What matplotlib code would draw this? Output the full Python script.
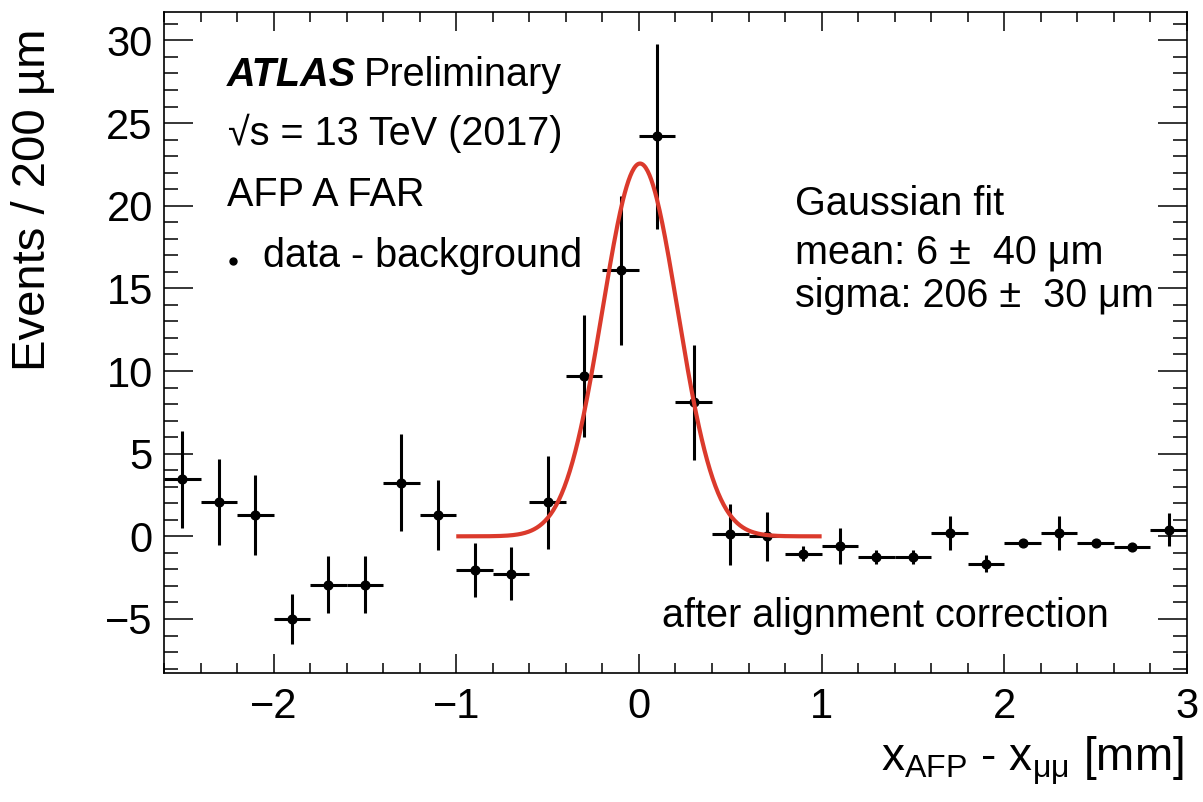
import numpy as np
import matplotlib
matplotlib.use('Agg')
from matplotlib import pyplot as plt
from matplotlib.ticker import MultipleLocator

plt.rcParams['font.family'] = ['Liberation Sans', 'DejaVu Sans']
plt.rcParams['mathtext.fontset'] = 'custom'
plt.rcParams['mathtext.rm'] = 'Liberation Sans'
plt.rcParams['mathtext.it'] = 'Liberation Sans:italic'

# data - background, bins of 200 um
bin_centers = [-2.5, -2.3, -2.1, -1.9, -1.7, -1.5, -1.3, -1.1, -0.9, -0.7,
               -0.5, -0.3, -0.1, 0.1, 0.3, 0.5, 0.7, 0.9, 1.1, 1.3,
               1.5, 1.7, 1.9, 2.1, 2.3, 2.5, 2.7, 2.9]
events = [3.45, 2.1, 1.3, -5.0, -2.93, -2.93, 3.25, 1.3, -2.05, -2.25,
          2.05, 9.7, 16.1, 24.2, 8.1, 0.12, 0.0, -1.05, -0.6, -1.25,
          -1.25, 0.2, -1.65, -0.4, 0.2, -0.4, -0.65, 0.4]
errors = [2.95, 2.6, 2.4, 1.5, 1.72, 1.72, 2.95, 2.1, 1.65, 1.6,
          2.8, 3.7, 4.5, 5.6, 3.5, 1.85, 1.5, 0.45, 1.1, 0.45,
          0.45, 1.05, 0.5, 0.1, 1.05, 0.1, 0.25, 1.0]
half_bin = 0.1

# gaussian fit result
FIT_AMP = 22.55
FIT_MEAN = 0.006
FIT_SIGMA = 0.206
FIT_RANGE = (-1.0, 1.0)

fig = plt.figure(figsize=(12.03, 8.02), dpi=100)
ax = fig.add_axes([0.1363, 0.1612, 0.8504, 0.8235])

ax.errorbar(bin_centers, events, yerr=errors, xerr=half_bin, fmt='o',
            color='black', ms=6.3, elinewidth=2.2, capsize=0, zorder=3)

xf = np.linspace(FIT_RANGE[0], FIT_RANGE[1], 400)
yf = FIT_AMP * np.exp(-0.5 * ((xf - FIT_MEAN) / FIT_SIGMA) ** 2)
ax.plot(xf, yf, color='#db3a2c', lw=3.0, solid_capstyle='butt', zorder=4)

ax.set_xlim(-2.6, 3.0)
ax.set_ylim(-8.25, 31.7)
ax.xaxis.set_major_locator(MultipleLocator(1))
ax.xaxis.set_minor_locator(MultipleLocator(0.2))
ax.yaxis.set_major_locator(MultipleLocator(5))
ax.yaxis.set_minor_locator(MultipleLocator(1))
ax.tick_params(which='both', direction='in', top=True, right=True,
               width=1.1, labelsize=30)
ax.tick_params(axis='x', which='major', length=13.7, pad=10)
ax.tick_params(axis='x', which='minor', length=7.2)
ax.tick_params(axis='y', which='major', length=21, pad=8)
ax.tick_params(axis='y', which='minor', length=10)
for s in ax.spines.values():
    s.set_linewidth(1.2)

fig.text(0.0274, 0.965, 'Events / 200 µm', rotation=90, ha='center',
         va='top', fontsize=34)
fig.text(0.9837, 0.038, r'x$_{\mathrm{AFP}}$ - x$_{\mathrm{μμ}}$ [mm]',
         ha='right', va='baseline', fontsize=33)

tsize = 28.5
atlas = ax.text(0.0613, 0.888, 'ATLAS', transform=ax.transAxes,
                fontsize=tsize, fontweight='bold', fontstyle='italic',
                va='baseline')
ax.annotate('Preliminary', xy=(1, 0), xycoords=atlas, xytext=(6, 0),
            textcoords='offset points', fontsize=tsize, va='bottom')
ax.text(0.0625, 0.799, '√s = 13 TeV (2017)', transform=ax.transAxes,
        fontsize=tsize, va='baseline')
ax.text(0.0613, 0.707, 'AFP A FAR', transform=ax.transAxes,
        fontsize=tsize, va='baseline')
ax.plot([0.0675], [0.624], 'o', color='black', ms=5, transform=ax.transAxes)
ax.text(0.0968, 0.615, 'data - background', transform=ax.transAxes,
        fontsize=tsize, va='baseline')

ax.text(0.617, 0.693, 'Gaussian fit', transform=ax.transAxes,
        fontsize=tsize, va='baseline')
ax.text(0.617, 0.620, 'mean: 6 ±  40 μm', transform=ax.transAxes,
        fontsize=tsize, va='baseline')
ax.text(0.617, 0.554, 'sigma: 206 ±  30 μm', transform=ax.transAxes,
        fontsize=tsize, va='baseline')
ax.text(0.487, 0.069, 'after alignment correction', transform=ax.transAxes,
        fontsize=tsize, va='baseline')

fig.savefig('out.png', dpi=100)
